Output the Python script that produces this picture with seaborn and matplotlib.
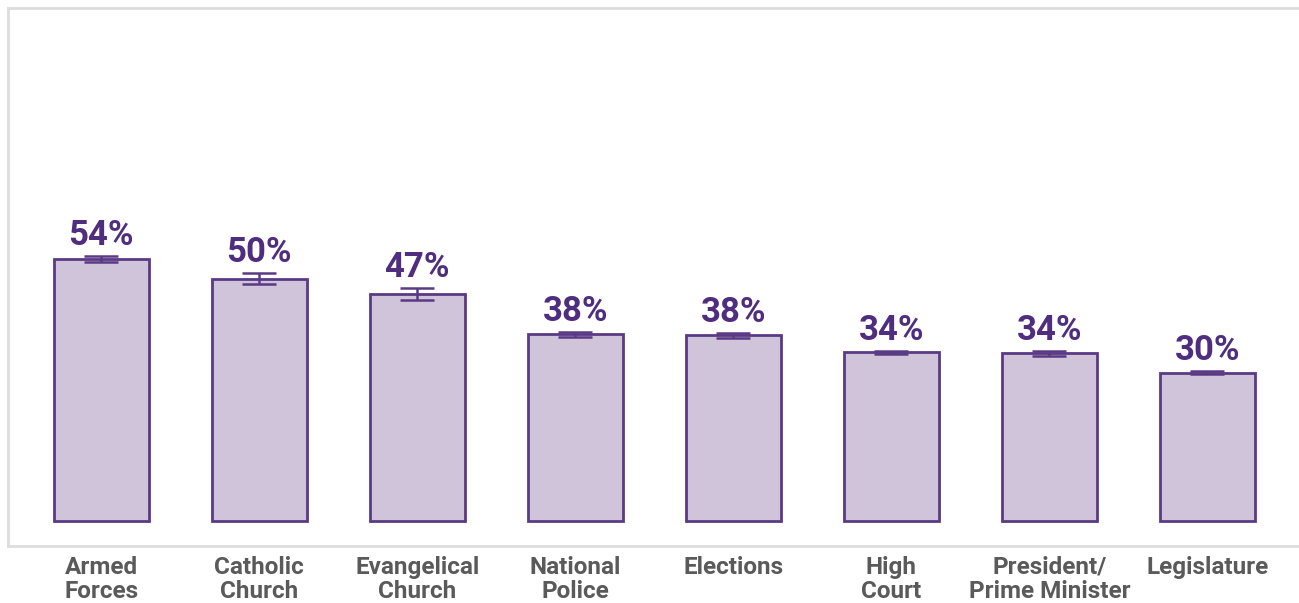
import matplotlib
matplotlib.use("Agg")
import matplotlib.pyplot as plt
import seaborn as sns
import pandas as pd
import numpy as np

categories = ["Armed\nForces", "Catholic\nChurch", "Evangelical\nChurch", "National\nPolice",
              "Elections", "High\nCourt", "President/\nPrime Minister", "Legislature"]
values = [53.7, 49.6, 46.5, 38.2, 38.0, 34.5, 34.3, 30.4]
labels = ["54%", "50%", "47%", "38%", "38%", "34%", "34%", "30%"]
errors = [0.6, 1.1, 1.2, 0.5, 0.5, 0.4, 0.5, 0.4]

sns.set_theme(style="white")
plt.rcParams["font.family"] = ["Roboto", "DejaVu Sans"]

FILL = "#D0C4DA"
EDGE = "#5B3A85"
TXT = "#4F2D7F"
TICK = "#5A5A5A"
FRAME = "#DDDDDD"

df = pd.DataFrame({"category": categories, "value": values})

fig = plt.figure(figsize=(12.99, 6.03), dpi=100)
ax = fig.add_axes([8 / 1299, 1 - 546 / 603, 1 - 8 / 1299, (546 - 8) / 603])

sns.barplot(data=df, x="category", y="value", ax=ax, color=FILL, width=0.6,
            edgecolor=EDGE, linewidth=2, saturation=1, errorbar=None)

xs = np.arange(len(categories))
ax.errorbar(xs, values, yerr=errors, fmt="none", ecolor=EDGE, elinewidth=1.8,
            capsize=12, capthick=1.8)

for x, v, e, lab in zip(xs, values, errors, labels):
    ax.text(x, v + e + 0.8, lab, ha="center", va="bottom", fontsize=25,
            fontweight="bold", color=TXT)

ax.set_ylim(-5.1, 105.0)
ax.set_xlim(-0.59, 7.58)
ax.set_xlabel("")
ax.set_ylabel("")
ax.set_yticks([])
ax.tick_params(axis="x", length=0, pad=7)
for t in ax.get_xticklabels():
    t.set_fontsize(17.5)
    t.set_fontweight("bold")
    t.set_color(TICK)
    t.set_linespacing(1.08)

for side in ["top", "left", "bottom"]:
    ax.spines[side].set_visible(True)
    ax.spines[side].set_color(FRAME)
    ax.spines[side].set_linewidth(2)
ax.spines["right"].set_visible(False)

fig.savefig("out.png", dpi=100)
